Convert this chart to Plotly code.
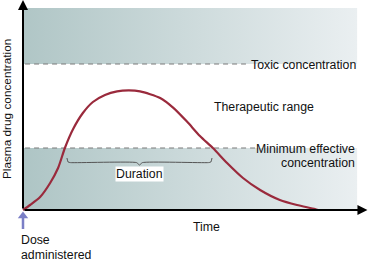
import plotly.graph_objects as go

# ---- data (time in arbitrary units, concentration in arbitrary units) ----
time = [0, 0.24, 0.58, 0.92, 1.19, 1.42, 1.70, 2.03, 2.37, 2.78, 3.19, 3.59, 3.97,
        4.65, 5.09, 5.56, 6.00, 6.44, 6.92, 7.46, 8.04, 8.71, 9.29, 9.90, 10.0]
conc = [0, 0.25, 0.65, 1.35, 2.1, 3.1, 4.05, 4.85, 5.4, 5.75, 5.93, 5.98, 5.93,
        5.6, 5.12, 4.42, 3.7, 3.1, 2.35, 1.6, 1.0, 0.5, 0.25, 0.05, 0]
toxic_level = [7.3]
mec_level = [3.1]
band_top = [10.1]
band_end = [11.33]
duration_window = [1.49, 6.41]   # brace ends (time above MEC)
dose_time = [0]
labels = {
    "toxic": "Toxic concentration",
    "ther": "Therapeutic range",
    "mec1": "Minimum effective",
    "mec2": "concentration",
    "dur": "Duration",
    "time": "Time",
    "dose1": "Dose",
    "dose2": "administered",
    "ylab": "Plasma drug concentration",
}

X_RANGE = [-0.780, 11.699]
Y_RANGE = [-2.55, 10.5]
FONT = "Liberation Sans, Arial, sans-serif"
FS = 12.3

fig = go.Figure()

def band(y0, y1, c0, c1):
    fig.add_trace(go.Scatter(
        x=[0.03, band_end[0], band_end[0], 0.03, 0.03],
        y=[y0, y0, y1, y1, y0], mode="lines", fill="toself",
        line=dict(width=0), hoverinfo="skip",
        fillgradient=dict(type="horizontal",
                          colorscale=[[0, c0], [1, c1]])))

band(toxic_level[0], band_top[0], "rgb(176,198,198)", "rgb(234,239,241)")
band(0, mec_level[0], "rgb(174,197,197)", "rgb(234,239,241)")

# dashed reference lines
for lvl, xend in [(toxic_level[0], 7.56), (mec_level[0], 7.9)]:
    fig.add_trace(go.Scatter(x=[0.07, xend], y=[lvl, lvl], mode="lines",
                             line=dict(color="#7a7a7a", width=1.2, dash="5px,4px"),
                             hoverinfo="skip"))

# concentration curve
fig.add_trace(go.Scatter(x=time, y=conc, mode="lines",
                         line=dict(color="#9a2a3c", width=2.2, shape="spline", smoothing=0.7),
                         hoverinfo="skip"))

# duration brace
d0, d1 = duration_window
mid = (d0 + d1) / 2
by, bt, btip = 2.37, 2.6, 2.25
bx = [d0, d0 + 0.04, d0 + 0.12, mid - 0.1, mid, mid + 0.1, d1 - 0.12, d1 - 0.04, d1]
byy = [bt, by + 0.03, by, by, btip, by, by, by + 0.03, bt]
fig.add_trace(go.Scatter(x=bx, y=byy, mode="lines",
                         line=dict(color="#555555", width=1, shape="spline", smoothing=0.5),
                         hoverinfo="skip"))

# dose arrow (shaft + head)
fig.add_trace(go.Scatter(x=[dose_time[0], dose_time[0]], y=[-0.95, -0.35], mode="lines",
                         line=dict(color="#7b7fc6", width=2.5), hoverinfo="skip"))
fig.add_trace(go.Scatter(x=[dose_time[0]], y=[-0.3], mode="markers",
                         marker=dict(symbol="triangle-up", size=9, color="#7b7fc6",
                                     line=dict(width=0)), hoverinfo="skip"))

ann = []
# axes arrows
ann.append(dict(x=0, y=10.5, ax=0, ay=0, axref="x", ayref="y", xref="x", yref="y",
                text="", showarrow=True, arrowhead=2, arrowsize=1, arrowwidth=2, arrowcolor="black"))
ann.append(dict(x=11.68, y=0, ax=0, ay=0, axref="x", ayref="y", xref="x", yref="y",
                text="", showarrow=True, arrowhead=2, arrowsize=1, arrowwidth=2, arrowcolor="black"))

def txt(x, y, t, xa="left", size=FS, **kw):
    ann.append(dict(x=x, y=y, text=t, showarrow=False, xanchor=xa, yanchor="middle",
                    font=dict(family=FONT, size=size, color="#111111"), **kw))

txt(7.68, 7.25, labels["toxic"])
txt(6.40, 5.15, labels["ther"])
txt(11.33, 3.05, labels["mec1"], xa="right")
txt(11.33, 2.35, labels["mec2"], xa="right")
txt(mid, 1.8, labels["dur"], xa="center", bgcolor="white", borderpad=0)
txt(5.70, -0.85, labels["time"])
txt(-0.13, -1.5, labels["dose1"])
txt(-0.13, -2.25, labels["dose2"])
ann.append(dict(x=-0.54, y=5.05, text=labels["ylab"], showarrow=False, textangle=-90,
                xanchor="center", yanchor="middle",
                font=dict(family=FONT, size=11.8, color="#111111")))

fig.update_layout(
    width=368, height=261, margin=dict(l=0, r=0, t=0, b=0),
    paper_bgcolor="white", plot_bgcolor="white", showlegend=False,
    xaxis=dict(range=X_RANGE, visible=False, fixedrange=True),
    yaxis=dict(range=Y_RANGE, visible=False, fixedrange=True),
    annotations=ann,
)

fig.write_html("out.html")
